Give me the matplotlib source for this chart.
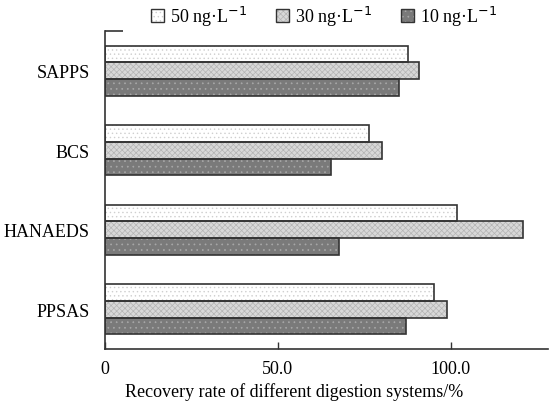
import matplotlib
matplotlib.use("Agg")
import matplotlib.pyplot as plt
import numpy as np
from matplotlib.patches import Patch
from matplotlib.legend_handler import HandlerTuple

plt.rcParams['font.family'] = ['Liberation Serif', 'DejaVu Serif']
plt.rcParams['hatch.linewidth'] = 0.5

categories = ["PPSAS", "HANAEDS", "BCS", "SAPPS"]
series_names = ["50 ng\u00b7L$^{-1}$", "30 ng\u00b7L$^{-1}$", "10 ng\u00b7L$^{-1}$"]
vals_50 = [95.0, 101.8, 76.2, 87.7]
vals_30 = [98.8, 120.8, 80.0, 90.9]
vals_10 = [86.9, 67.6, 65.3, 85.0]
xticks = [0, 50, 100]
xticklabels = ["0", "50.0", "100.0"]

series = [vals_50, vals_30, vals_10]
faces = ["#ffffff", "#d8d8d8", "#7a7a7a"]
hatches = ["....", "xxxxxx", "..."]
hatch_cols = ["#cfcfcf", "#b4b4b4", "#a8a8a8"]
edge = "#333333"

fig = plt.figure(figsize=(5.49, 4.02), dpi=100)
ax = fig.add_axes([105/549, 1-350/402, (548-105)/549, (350-32)/402])

y = np.arange(len(categories))
h = 0.21
offsets = [h, 0, -h]
handles = []
for vals, off, fc, ht, hc in zip(series, offsets, faces, hatches, hatch_cols):
    ax.barh(y + off, vals, height=h, color=fc, hatch=ht, edgecolor=hc, linewidth=0, zorder=2)
    ax.barh(y + off, vals, height=h, facecolor="none", edgecolor=edge, linewidth=1.2, zorder=3)
    p1 = Patch(facecolor=fc, hatch=ht, edgecolor=hc, linewidth=0)
    p2 = Patch(facecolor="none", edgecolor=edge, linewidth=1.0)
    handles.append((p1, p2))

ax.set_xlim(0, 128.1)
ax.set_ylim(-0.5, 3.5)
ax.set_yticks(y)
ax.set_yticklabels(categories, fontsize=13)
ax.tick_params(axis='y', length=0, pad=11)
ax.set_yticks([3.5], minor=True)
ax.tick_params(axis='y', which='minor', direction='in', length=13, width=1.2, color=edge)
ax.set_xticks(xticks)
ax.set_xticklabels(xticklabels, fontsize=13)
ax.tick_params(axis='x', direction='in', length=5, width=1.0, color=edge, pad=8)
for s in ['top', 'right']:
    ax.spines[s].set_visible(False)
for s in ['left', 'bottom']:
    ax.spines[s].set_linewidth(1.2)
    ax.spines[s].set_color(edge)
ax.set_xlabel("Recovery rate of different digestion systems/%", fontsize=13)
ax.xaxis.set_label_coords((294-105)/(548-105), -0.105)

fig.legend(handles, series_names, loc='center', bbox_to_anchor=(0.59, 0.958), ncol=3,
           frameon=False, fontsize=13, handlelength=0.75, handleheight=0.75,
           handletextpad=0.3, columnspacing=1.6,
           handler_map={tuple: HandlerTuple(ndivide=1, pad=0)})

fig.savefig("out.png", dpi=100)
